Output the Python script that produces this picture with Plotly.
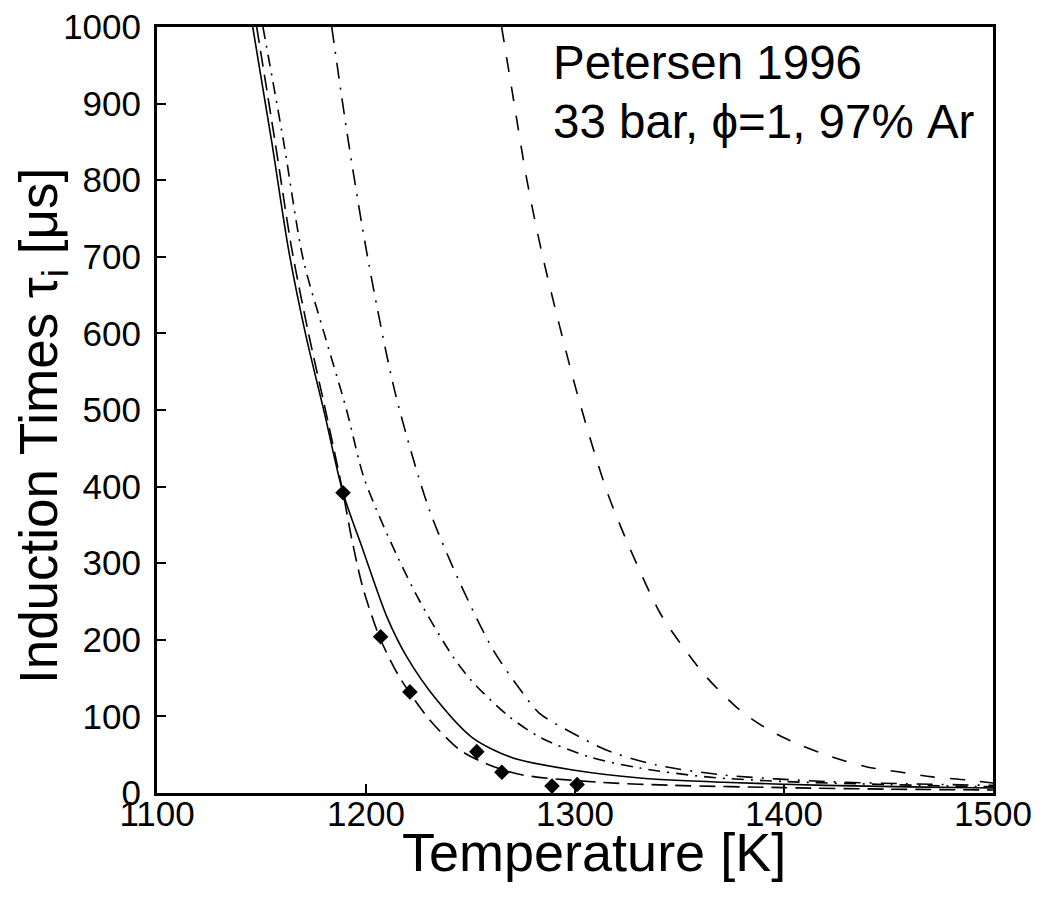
import plotly.graph_objects as go

# ---- data ----
solid_T = [1145.8, 1154.9, 1162.9, 1171, 1180.2, 1189, 1198.6, 1210, 1219.6, 1234, 1251, 1270, 1299, 1331, 1371, 1420, 1460, 1500]
solid_tau = [1000, 850, 710, 600, 495, 392, 317, 230, 177.5, 121, 72, 46, 30, 19.6, 14, 10, 8, 6.5]

longdash_T = [1147.7, 1156.5, 1164.5, 1172.5, 1181, 1189, 1193.3, 1198.6, 1206.7, 1214.8, 1220.6, 1230.6, 1245, 1259, 1275, 1312, 1347, 1400, 1450, 1500]
longdash_tau = [1000, 850, 710, 600, 495, 392, 330, 267, 202, 157, 132, 95, 56, 36.5, 23.5, 14, 10, 7, 5, 4]

dashdot1_T = [1150.7, 1160.6, 1170, 1180, 1190.7, 1198.6, 1205, 1214.8, 1225.8, 1241.6, 1251, 1267.5, 1283, 1307, 1331, 1363, 1400, 1450, 1500]
dashdot1_tau = [1000, 850, 696, 600, 500, 415, 370, 310, 250, 178, 145, 102, 73, 47, 32.6, 21, 15, 11, 8]

dashdot2_T = [1183.6, 1191.6, 1201, 1214, 1230, 1245, 1260.8, 1275, 1283, 1299, 1315, 1339, 1371, 1420, 1460, 1500]
dashdot2_tau = [1000, 850, 696, 522, 372, 274, 187, 130.5, 104, 78, 56, 36.5, 23.5, 15, 12, 10]

dashed_T = [1264.9, 1270, 1277, 1285, 1301, 1315, 1326, 1340.7, 1351.7, 1363, 1379, 1393, 1407.7, 1423, 1439.7, 1455.5, 1471, 1487.6, 1500]
dashed_tau = [1000, 915, 800, 695, 522, 396, 321, 235, 190.6, 151, 108, 82, 62.7, 47, 34, 27.4, 21, 17, 13]

exp_T = [1189, 1207, 1221, 1253, 1265, 1289, 1301]
exp_tau = [392, 204, 132, 54, 27, 9, 11]

x_ticks = [1100, 1200, 1300, 1400, 1500]
y_ticks = [0, 100, 200, 300, 400, 500, 600, 700, 800, 900, 1000]

x_title = "Temperature [K]"
y_title = "Induction Times \u03c4<sub>i</sub> [\u03bcs]"
annot_lines = ["Petersen 1996", "33 bar, \u03d5=1, 97% Ar"]

FONT = "Liberation Sans, Arial, sans-serif"

fig = go.Figure()

curves = [
    (solid_T, solid_tau, "solid"),
    (longdash_T, longdash_tau, "16px,8px"),
    (dashdot1_T, dashdot1_tau, "12px,7px,2px,7px"),
    (dashdot2_T, dashdot2_tau, "16px,9px,2px,9px"),
    (dashed_T, dashed_tau, "15px,15px"),
]
for xs, ys, dash in curves:
    fig.add_trace(go.Scatter(
        x=xs, y=ys, mode="lines",
        line=dict(color="black", width=1.6, dash=dash, shape="spline", smoothing=0.8),
        showlegend=False, hoverinfo="skip", cliponaxis=True,
    ))

fig.add_trace(go.Scatter(
    x=exp_T, y=exp_tau, mode="markers",
    marker=dict(symbol="diamond", size=12, color="black"),
    showlegend=False, cliponaxis=False,
))

# page body has an 8px margin, so the figure is sized/offset to put the
# plot area at x 157..993, y 27..793 of the window
fig.update_layout(
    width=1035, height=891,
    margin=dict(l=149, r=50, t=19, b=106),
    paper_bgcolor="white", plot_bgcolor="white",
    font=dict(family=FONT, color="black"),
    xaxis=dict(
        range=[1100, 1500], tickvals=x_ticks, ticktext=[str(v) for v in x_ticks],
        ticks="inside", ticklen=9, tickwidth=2, tickcolor="black",
        showline=True, linewidth=3, linecolor="black", mirror=True,
        showgrid=False, zeroline=False, automargin=False,
        tickfont=dict(size=35, family=FONT),
        ticklabelstandoff=-12, ticklabeloverflow="allow",
    ),
    yaxis=dict(
        range=[0, 1000], tickvals=y_ticks, ticktext=[str(v) for v in y_ticks],
        ticks="inside", ticklen=9, tickwidth=2, tickcolor="black",
        showline=True, linewidth=3, linecolor="black", mirror=True,
        showgrid=False, zeroline=False, automargin=False,
        tickfont=dict(size=35, family=FONT),
        ticklabelstandoff=6, ticklabeloverflow="allow",
    ),
)

fig.add_annotation(x=0.5227, y=-0.077, xref="paper", yref="paper", text=x_title,
                   showarrow=False, xanchor="center", yanchor="middle",
                   font=dict(size=54, family=FONT, color="black"))
fig.add_annotation(x=-0.1376, y=0.479, xref="paper", yref="paper", text=y_title,
                   showarrow=False, xanchor="center", yanchor="middle", textangle=-90,
                   borderpad=0,
                   font=dict(size=53, family=FONT, color="black"))

fig.add_annotation(x=1288.5, y=954, xref="x", yref="y", text=annot_lines[0],
                   showarrow=False, xanchor="left", yanchor="middle",
                   font=dict(size=47.5, family=FONT, color="black"))
fig.add_annotation(x=1288.5, y=876, xref="x", yref="y", text=annot_lines[1],
                   showarrow=False, xanchor="left", yanchor="middle",
                   font=dict(size=47.5, family=FONT, color="black"))

fig.write_html("out.html")
